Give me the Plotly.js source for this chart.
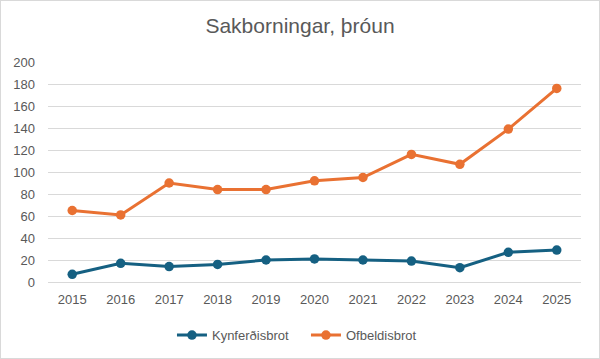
<!DOCTYPE html>
<html>
<head>
<meta charset="utf-8">
<script src="https://cdn.plot.ly/plotly-3.0.1.min.js"></script>
<style>
html,body{margin:0;padding:0;background:#fff;}
#chart{width:598px;height:357px;border:1px solid #d9d9d9;}
</style>
</head>
<body>
<div id="chart"></div>
<script>
const years = ['2015','2016','2017','2018','2019','2020','2021','2022','2023','2024','2025'];
const kynferdisbrot = [7, 17, 14, 16, 20, 21, 20, 19, 13, 27, 29];
const ofbeldisbrot = [65, 61, 90, 84, 84, 92, 95, 116, 107, 139, 176];
const seriesNames = ['Kynferðisbrot', 'Ofbeldisbrot'];
const yTicks = [0,20,40,60,80,100,120,140,160,180,200];

const font = 'Aptos, "Liberation Sans", Arial, sans-serif';
const traces = [
  {x: years, y: kynferdisbrot, name: seriesNames[0], type: 'scatter', mode: 'lines+markers',
   line: {color: '#156082', width: 3}, marker: {color: '#156082', size: 9.5}},
  {x: years, y: ofbeldisbrot, name: seriesNames[1], type: 'scatter', mode: 'lines+markers',
   line: {color: '#E97132', width: 3}, marker: {color: '#E97132', size: 9.5}}
];
const layout = {
  width: 598, height: 357,
  margin: {l: 47, r: 18, t: 61, b: 76},
  paper_bgcolor: '#fff', plot_bgcolor: '#fff',
  title: {text: 'Sakborningar, þróun', x: 0.5, xanchor: 'center', y: 0.93, yanchor: 'middle',
          font: {family: '"Liberation Sans Narrow", ' + font, size: 21, color: '#595959'}},
  xaxis: {type: 'category', range: [-0.5, 10.5], showgrid: false, zeroline: false, showline: false,
          ticks: '', tickfont: {family: font, size: 13, color: '#595959'}, ticklabelstandoff: 8},
  yaxis: {range: [0, 200], tickvals: yTicks, showgrid: true, gridcolor: '#d9d9d9', gridwidth: 1,
          zeroline: true, zerolinecolor: '#d9d9d9', zerolinewidth: 1, showline: false, ticks: '',
          tickfont: {family: font, size: 13, color: '#595959'}, ticklabelstandoff: 12},
  showlegend: true,
  legend: {orientation: 'h', x: 0.484, xanchor: 'center', yref: 'container', y: 0.064, yanchor: 'middle',
           font: {family: font, size: 13, color: '#595959'}, itemwidth: 30, traceorder: 'normal',
           entrywidth: 89, entrywidthmode: 'pixels'},
  hovermode: false
};
Plotly.newPlot('chart', traces, layout, {displayModeBar: false, staticPlot: true});
</script>
</body>
</html>
